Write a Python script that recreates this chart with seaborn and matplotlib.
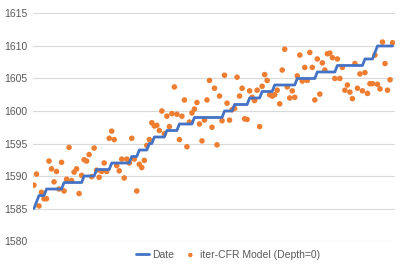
import numpy as np
import pandas as pd
import matplotlib
matplotlib.use("Agg")
import matplotlib.pyplot as plt
import seaborn as sns

# step series ("Date")
date_values = [
    1585, 1586, 1587, 1587, 1587, 1588, 1588, 1588, 1588, 1588, 1588, 1588,
    1589, 1589, 1589, 1589, 1589, 1589, 1589, 1589, 1590, 1590, 1590, 1590,
    1590, 1591, 1591, 1591, 1591, 1591, 1591, 1592, 1592, 1592, 1592, 1592,
    1592, 1592, 1592, 1593, 1593, 1593, 1594, 1594, 1594, 1594, 1595, 1595,
    1596, 1596, 1596, 1596, 1596, 1597, 1597, 1597, 1597, 1597, 1598, 1598,
    1598, 1598, 1598, 1598, 1599, 1599, 1599, 1599, 1599, 1599, 1599, 1599,
    1599, 1599, 1599, 1599, 1600, 1600, 1600, 1600, 1601, 1601, 1601, 1601,
    1601, 1601, 1602, 1602, 1602, 1602, 1602, 1603, 1603, 1603, 1603, 1603,
    1604, 1604, 1604, 1604, 1604, 1604, 1604, 1604, 1604, 1605, 1605, 1605,
    1605, 1605, 1605, 1605, 1605, 1606, 1606, 1606, 1606, 1606, 1606, 1606,
    1606, 1607, 1607, 1607, 1607, 1607, 1607, 1607, 1607, 1607, 1607, 1607,
    1608, 1608, 1608, 1608, 1609, 1610, 1610, 1610, 1610, 1610, 1610, 1610,
]

# model predictions ("iter-CFR Model (Depth=0)")
model_values = [
    1588.6, 1590.3, 1585.4, 1587.5, 1586.5, 1586.5, 1592.3, 1591.1, 1589.1, 1590.7,
    1588.0, 1592.1, 1587.7, 1589.5, 1594.4, 1589.3, 1590.6, 1591.1, 1587.3, 1590.1,
    1592.5, 1592.3, 1593.3, 1589.9, 1594.3, 1590.9, 1589.8, 1590.7, 1592.0, 1590.7,
    1595.8, 1596.9, 1595.6, 1591.6, 1590.8, 1592.6, 1589.7, 1592.6, 1592.0, 1595.8,
    1592.6, 1587.7, 1591.8, 1591.3, 1592.4, 1594.7, 1595.6, 1598.2, 1597.7, 1597.8,
    1597.0, 1600.0, 1596.5, 1599.2, 1597.6, 1599.6, 1603.7, 1599.5, 1595.6, 1599.2,
    1601.7, 1594.5, 1598.3, 1599.7, 1600.3, 1601.3, 1598.0, 1595.4, 1598.6, 1601.7,
    1604.7, 1597.5, 1603.5, 1594.8, 1602.3, 1598.5, 1605.5, 1601.2, 1598.6, 1600.2,
    1600.4, 1605.2, 1602.3, 1603.5, 1598.8, 1598.7, 1603.1, 1602.1, 1601.6, 1603.2,
    1597.6, 1603.8, 1605.6, 1604.7, 1602.5, 1602.3, 1602.5, 1603.2, 1601.1, 1606.3,
    1609.5, 1603.7, 1602.0, 1603.1, 1602.1, 1605.4, 1608.6, 1604.6, 1606.7, 1604.7,
    1609.0, 1606.7, 1601.7, 1608.0, 1602.6, 1607.4, 1606.3, 1608.8, 1608.9, 1608.2,
    1605.0, 1608.0, 1605.0, 1606.7, 1603.2, 1604.0, 1602.9, 1601.9, 1607.3, 1603.5,
    1605.7, 1603.1, 1605.9, 1602.7, 1604.2, 1604.2, 1608.6, 1604.1, 1603.4, 1610.6,
    1607.3, 1603.2, 1604.8, 1610.5,
]

y_ticks = [1580, 1585, 1590, 1595, 1600, 1605, 1610, 1615]

df = pd.DataFrame({
    "idx": range(len(date_values)),
    "Date": date_values,
    "Model": model_values,
})

sns.set_theme(style="white")
plt.rcParams["font.family"] = ["Liberation Sans", "DejaVu Sans"]

fig = plt.figure(figsize=(4.07, 2.64), dpi=100)
ax = fig.add_axes([0.081, 0.087, 0.889, 0.862])

sns.lineplot(data=df, x="idx", y="Date", ax=ax, color="#4472C4",
             linewidth=2.0, label="Date", zorder=3)
sns.scatterplot(data=df, x="idx", y="Model", ax=ax, color="#ED7D31",
                s=16, edgecolor="none", label="iter-CFR Model (Depth=0)", zorder=2)

ax.set_xlim(-0.4, 143.9)
ax.set_ylim(1580, 1615)
ax.set_yticks(y_ticks)
ax.set_xticks([])
ax.set_xlabel("")
ax.set_ylabel("")
ax.yaxis.grid(True, color="#d9d9d9", linewidth=0.8)
ax.set_axisbelow(True)
for side in ["top", "right", "left", "bottom"]:
    ax.spines[side].set_visible(False)
ax.tick_params(axis="y", length=0, pad=4, labelsize=7.5, labelcolor="#595959")

ax.legend_.remove()
handles, labels = ax.get_legend_handles_labels()
fig.legend(handles, labels, loc="center", bbox_to_anchor=(0.56, 0.035), ncol=2,
           frameon=False, fontsize=7.5, labelcolor="#595959",
           handlelength=1.2, handletextpad=0.3, columnspacing=1.0, markerscale=0.8)

fig.savefig("out.png", dpi=100)
